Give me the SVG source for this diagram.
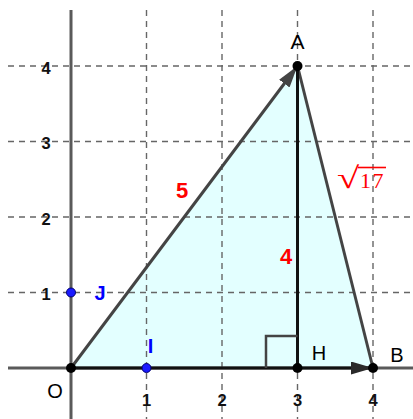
<svg xmlns="http://www.w3.org/2000/svg" width="413" height="419" viewBox="0 0 413 419">
<defs>
<style>
.grid{stroke:#666;stroke-width:1.4;stroke-dasharray:6 5;fill:none}
.axis{stroke:#5a5a5a;stroke-width:3;fill:none}
.tick{font-family:"Liberation Sans",Arial,sans-serif;font-size:16.5px;font-weight:bold;fill:#111;text-anchor:middle}
.lbl{font-family:"Liberation Sans",Arial,sans-serif;font-size:20px;fill:#000;text-anchor:middle}
.blue{fill:#0000ff;font-weight:bold}
.len{font-family:"Liberation Sans",Arial,sans-serif;font-size:22px;font-weight:bold;fill:#ff0000;text-anchor:middle}
.pt{fill:#000}
.bpt{fill:#1a1aff;stroke:#00006e;stroke-width:1}
</style>
<marker id="arrG" markerUnits="userSpaceOnUse" markerWidth="24" markerHeight="14" refX="22" refY="6.5" orient="auto"><path d="M0,0 L22,6.5 L0,13 z" fill="#444"/></marker>
<marker id="arrK" markerUnits="userSpaceOnUse" markerWidth="24" markerHeight="14" refX="22" refY="6.5" orient="auto"><path d="M0,0 L22,6.5 L0,13 z" fill="#2a2a2a"/></marker>
</defs>
<rect width="413" height="419" fill="#ffffff"/>
<polygon id="triangle" points="71,368 297.5,66 373,368" fill="#e3ffff"/>
<g id="grid">
<line class="grid" x1="146.5" y1="10" x2="146.5" y2="419"/>
<line class="grid" x1="222" y1="10" x2="222" y2="419"/>
<line class="grid" x1="297.5" y1="10" x2="297.5" y2="419"/>
<line class="grid" x1="373" y1="10" x2="373" y2="419"/>
<line class="grid" x1="8" y1="66" x2="413" y2="66"/>
<line class="grid" x1="8" y1="141.5" x2="413" y2="141.5"/>
<line class="grid" x1="8" y1="217" x2="413" y2="217"/>
<line class="grid" x1="8" y1="292.5" x2="413" y2="292.5"/>
</g>
<g id="axes">
<line class="axis" x1="71" y1="10" x2="71" y2="419"/>
<line class="axis" x1="8" y1="368" x2="413" y2="368"/>
<text class="tick" x="46" y="73.5">4</text>
<text class="tick" x="46" y="149">3</text>
<text class="tick" x="46" y="224.5">2</text>
<text class="tick" x="46" y="300">1</text>
<text class="tick" x="146.5" y="406">1</text>
<text class="tick" x="222" y="406">2</text>
<text class="tick" x="297.5" y="406">3</text>
<text class="tick" x="373" y="406">4</text>
</g>
<g id="connectors">
<line id="OA" x1="71" y1="368" x2="297.5" y2="66" stroke="#444" stroke-width="3" marker-end="url(#arrG)"/>
<line id="AB" x1="297.5" y1="66" x2="373" y2="368" stroke="#444" stroke-width="3"/>
<line id="OB" x1="71" y1="368" x2="373" y2="368" stroke="#111" stroke-width="3" marker-end="url(#arrK)"/>
<line id="AH" x1="297.5" y1="66" x2="297.5" y2="368" stroke="#111" stroke-width="3"/>
<path id="rightangle" d="M297.5,336 H266 V368" fill="none" stroke="#444" stroke-width="2.5"/>
<text class="len" x="182" y="198">5</text>
<text class="len" x="286" y="264">4</text>
<g id="sqrt17" fill="#ff0000" font-family="'Liberation Serif','Times New Roman',serif">
<text transform="translate(337,188) scale(1.35,1)" font-size="30">√</text>
<line x1="358" y1="167.5" x2="386" y2="167.5" stroke="#ff0000" stroke-width="1.6"/>
<text x="360" y="187.5" font-size="22" letter-spacing="1.5">17</text>
</g>
</g>
<g id="node-O"><circle class="pt" cx="71" cy="368" r="5"/><text class="lbl" x="55" y="398">O</text></g>
<g id="node-A"><circle class="pt" cx="297.5" cy="66" r="5"/><text class="lbl" x="297.5" y="49" style="font-size:21px">A</text></g>
<g id="node-B"><circle class="pt" cx="373" cy="368" r="5"/><text class="lbl" x="397" y="361.5">B</text></g>
<g id="node-H"><circle class="pt" cx="297.5" cy="368" r="5"/><text class="lbl" x="319" y="360">H</text></g>
<g id="node-I"><circle class="bpt" cx="146.5" cy="368" r="4.5"/><text class="lbl blue" x="150.5" y="352.5">I</text></g>
<g id="node-J"><circle class="bpt" cx="71" cy="292.5" r="4.5"/><text class="lbl blue" x="100" y="300">J</text></g>
</svg>
